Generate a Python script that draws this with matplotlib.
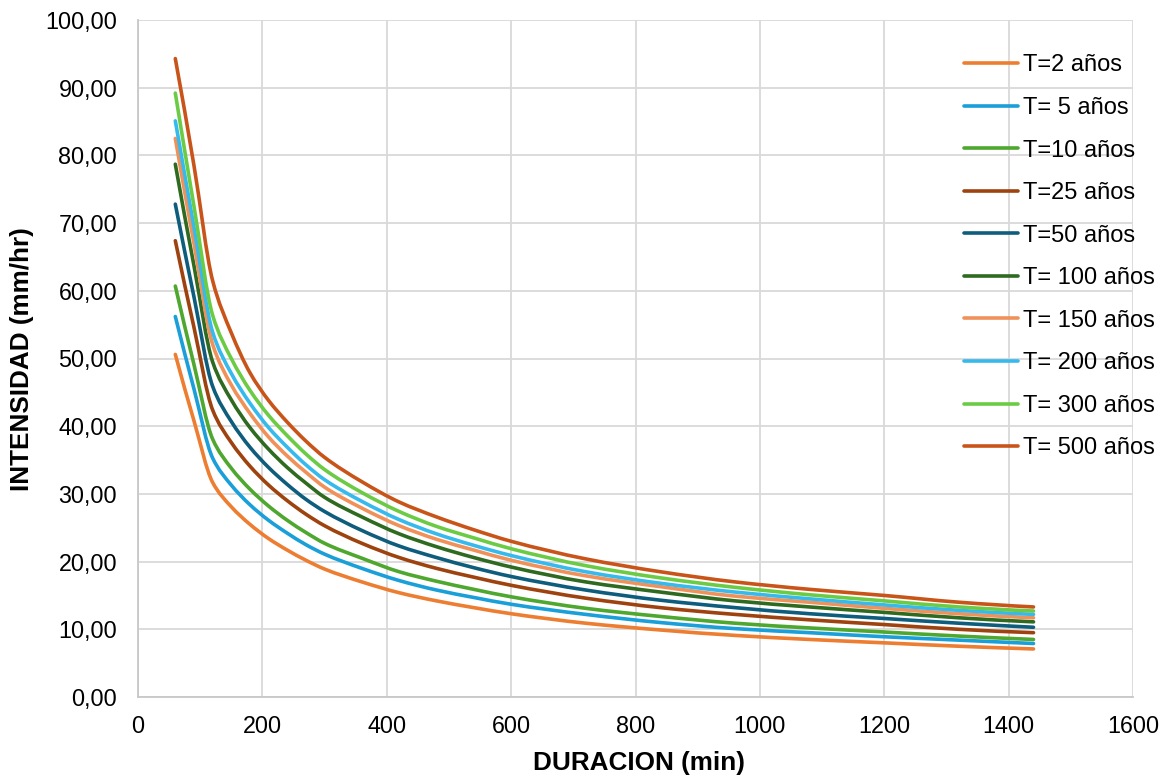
import matplotlib
matplotlib.use("Agg")
import matplotlib.pyplot as plt
from matplotlib.ticker import FuncFormatter
from matplotlib.path import Path
from matplotlib.patches import PathPatch
from matplotlib.lines import Line2D

plt.rcParams['font.family'] = ['Liberation Sans', 'DejaVu Sans']

# duracion (min)
dur = [60, 90, 120, 150, 180, 210, 240, 270, 300, 360, 420, 480, 540, 600,
       720, 840, 960, 1080, 1200, 1320, 1440]

# intensidad (mm/hr) por periodo de retorno
t2 = [50.6, 40.8, 31.7, 28.1, 25.5, 23.4, 21.7, 20.2, 18.9, 17.0, 15.4, 14.2, 13.2, 12.3,
      10.9, 9.9, 9.1, 8.5, 8.0, 7.5, 7.1]
t5 = [56.2, 45.5, 35.3, 31.3, 28.4, 26.1, 24.2, 22.5, 21.1, 19.0, 17.2, 15.8, 14.7, 13.7,
      12.2, 11.0, 10.1, 9.5, 8.9, 8.4, 7.9]
t10 = [60.7, 49.1, 38.1, 33.8, 30.7, 28.2, 26.1, 24.3, 22.7, 20.5, 18.5, 17.1, 15.9, 14.8,
       13.1, 11.9, 10.9, 10.2, 9.6, 9.0, 8.5]
t25 = [67.4, 54.6, 42.4, 37.6, 34.1, 31.3, 29.0, 27.0, 25.3, 22.7, 20.6, 19.0, 17.7, 16.5,
       14.6, 13.2, 12.2, 11.4, 10.7, 10.0, 9.5]
t50 = [72.8, 59.1, 45.9, 40.7, 36.9, 33.9, 31.4, 29.2, 27.4, 24.6, 22.3, 20.6, 19.1, 17.8,
       15.8, 14.3, 13.2, 12.3, 11.6, 10.9, 10.3]
t100 = [78.7, 63.7, 49.5, 43.9, 39.8, 36.6, 33.9, 31.6, 29.5, 26.6, 24.1, 22.2, 20.6, 19.2,
        17.0, 15.5, 14.2, 13.3, 12.5, 11.7, 11.1]
t150 = [82.5, 67.0, 52.1, 46.1, 41.9, 38.4, 35.6, 33.2, 31.0, 27.9, 25.3, 23.3, 21.7, 20.2,
        17.9, 16.3, 14.9, 14.0, 13.1, 12.3, 11.7]
t200 = [85.1, 69.4, 53.9, 47.8, 43.4, 39.8, 36.9, 34.3, 32.1, 28.9, 26.2, 24.1, 22.4, 20.9,
        18.5, 16.8, 15.5, 14.5, 13.6, 12.8, 12.2]
t300 = [89.2, 72.5, 56.4, 50.0, 45.3, 41.6, 38.6, 35.9, 33.6, 30.2, 27.4, 25.2, 23.5, 21.9,
        19.4, 17.6, 16.2, 15.1, 14.2, 13.3, 12.7]
t500 = [94.3, 78.5, 61.5, 53.8, 47.9, 43.8, 40.6, 37.8, 35.4, 31.8, 28.8, 26.6, 24.7, 23.0,
        20.4, 18.5, 17.0, 15.9, 15.0, 14.0, 13.3]

series = [t2, t5, t10, t25, t50, t100, t150, t200, t300, t500]
labels = ["T=2 años", "T= 5 años", "T=10 años", "T=25 años", "T=50 años",
          "T= 100 años", "T= 150 años", "T= 200 años", "T= 300 años", "T= 500 años"]
colors = ['#ED7D31', '#1A9FD9', '#4EA72E', '#9E430F', '#0E5D7C',
          '#2E6A1F', '#F0915A', '#36B9EC', '#6CCB45', '#C9541A']


def smooth_path(xs, ys):
    # linea suavizada (bezier con tangentes monotonas, sin ondas)
    n = len(xs)
    h = [xs[i + 1] - xs[i] for i in range(n - 1)]
    d = [(ys[i + 1] - ys[i]) / h[i] for i in range(n - 1)]
    m = [0.0] * n
    for i in range(1, n - 1):
        if d[i - 1] * d[i] > 0:
            w1 = 2 * h[i] + h[i - 1]
            w2 = h[i] + 2 * h[i - 1]
            m[i] = (w1 + w2) / (w1 / d[i - 1] + w2 / d[i])
    m[0] = ((2 * h[0] + h[1]) * d[0] - h[0] * d[1]) / (h[0] + h[1])
    m[-1] = ((2 * h[-1] + h[-2]) * d[-1] - h[-1] * d[-2]) / (h[-1] + h[-2])
    verts = [(xs[0], ys[0])]
    codes = [Path.MOVETO]
    for i in range(n - 1):
        verts += [(xs[i] + h[i] / 3, ys[i] + m[i] * h[i] / 3),
                  (xs[i + 1] - h[i] / 3, ys[i + 1] - m[i + 1] * h[i] / 3),
                  (xs[i + 1], ys[i + 1])]
        codes += [Path.CURVE4] * 3
    return Path(verts, codes)


fig = plt.figure(figsize=(11.74, 7.8), dpi=100)
ax = fig.add_axes([138/1174, 1-697/780, (1133-138)/1174, (697-20)/780])

handles = []
for y, lab, c in zip(series, labels, colors):
    ax.add_patch(PathPatch(smooth_path(dur, y), fill=False, edgecolor=c, lw=2.6,
                           capstyle='round', joinstyle='round'))
    handles.append(Line2D([], [], color=c, lw=2.6, solid_capstyle='round'))

ax.set_xlim(0, 1600)
ax.set_ylim(0, 100)
ax.set_xticks(range(0, 1601, 200))
ax.set_yticks(range(0, 101, 10))
ax.yaxis.set_major_formatter(FuncFormatter(lambda v, p: f"{v:.2f}".replace('.', ',')))
ax.grid(True, color='#D9D9D9', lw=1.3)
ax.set_axisbelow(True)
for s in ['top', 'right']:
    ax.spines[s].set_visible(False)
for s in ['left', 'bottom']:
    ax.spines[s].set_color('#C8C8C8')
    ax.spines[s].set_linewidth(1.3)
ax.tick_params(axis='y', length=0, labelsize=16.8, pad=15, colors='black')
ax.tick_params(axis='x', length=0, labelsize=16.8, pad=13, colors='black')

fig.text(639/1174, 1-763/780, "DURACION (min)", fontsize=18.8, fontweight='bold',
         ha='center', va='center')
fig.text(22/1174, 1-359/780, "INTENSIDAD (mm/hr)", fontsize=18.8, fontweight='bold',
         ha='center', va='center', rotation=90)

fig.legend(handles, labels, loc='upper left', bbox_to_anchor=(955/1174, 1-45/780),
           frameon=False, fontsize=17, handlelength=2.26, handletextpad=0.2,
           labelspacing=0.87, borderaxespad=0)

fig.savefig("out.png", dpi=100)
